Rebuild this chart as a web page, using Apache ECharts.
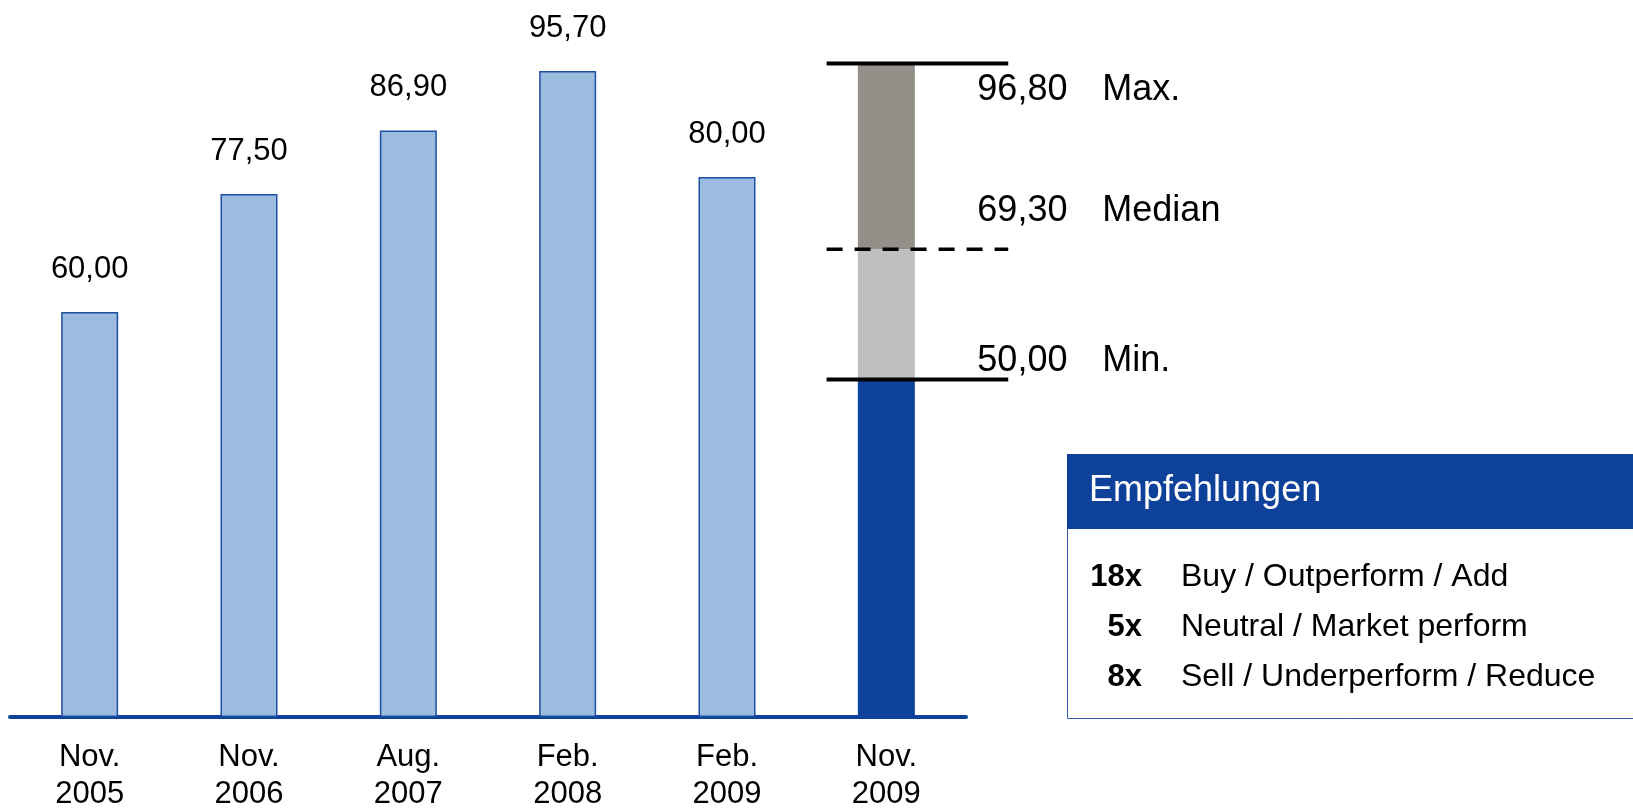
<!DOCTYPE html>
<html>
<head>
<meta charset="utf-8">
<script src="https://cdn.jsdelivr.net/npm/echarts@6/dist/echarts.min.js"></script>
<style>
  html, body { margin: 0; padding: 0; background: #fff; }
  #chart { width: 1633px; height: 809px; }
</style>
</head>
<body>
<div id="chart"></div>
<script>
// Kursziele (target prices) by date of study
const categories = ['Nov.\n2005', 'Nov.\n2006', 'Aug.\n2007', 'Feb.\n2008', 'Feb.\n2009', 'Nov.\n2009'];
const targetPrices = [60.00, 77.50, 86.90, 95.70, 80.00];

// Current analyst range for the last date: max, median, min
const rangeValues = [96.80, 69.30, 50.00];
const rangeNames = ['Max.', 'Median', 'Min.'];

// Recommendation summary
const boxTitle = 'Empfehlungen';
const recCounts = [18, 5, 8];
const recLabels = ['Buy / Outperform / Add', 'Neutral / Market perform', 'Sell / Underperform / Reduce'];

const BLUE = '#0E4199';
const LIGHT_BLUE = '#9BBBDF';
const DARK_GREY = '#958F89';
const LIGHT_GREY = '#BFBFBF';
const FONT = '"Liberation Sans", Arial, sans-serif';

const fmt = v => v.toFixed(2).replace('.', ',');
const last = categories.length - 1;
const [rMax, rMed, rMin] = rangeValues;

// History bars occupy the first categories, the range bar the last one
const historyData = categories.map((c, i) => i < targetPrices.length ? targetPrices[i] : '-');
const onlyLast = v => categories.map((c, i) => i === last ? v : '-');

// vertical text offsets of the range labels relative to their lines
const labelDy = [26, -38, -18];

const chart = echarts.init(document.getElementById('chart'), null, { renderer: 'canvas' });

const graphic = [
  { type: 'rect', shape: { x: 1067.5, y: 454.5, width: 600, height: 264 },
    style: { fill: '#fff', stroke: '#2F5BAA', lineWidth: 1 } },
  { type: 'rect', shape: { x: 1067, y: 454, width: 600, height: 75 },
    style: { fill: BLUE } },
  { type: 'text', x: 1089, y: 491,
    style: { text: boxTitle, fill: '#fff', font: '36px ' + FONT, verticalAlign: 'middle' } }
];
recCounts.forEach((n, i) => {
  const y = 577 + i * 50;
  graphic.push({ type: 'text', x: 1142, y: y,
    style: { text: n + 'x', fill: '#000', font: 'bold 31px ' + FONT, align: 'right', verticalAlign: 'middle' } });
  graphic.push({ type: 'text', x: 1181, y: y,
    style: { text: recLabels[i], fill: '#000', font: '32px ' + FONT, align: 'left', verticalAlign: 'middle' } });
});

chart.setOption({
  animation: false,
  backgroundColor: '#fff',
  grid: { left: 10, right: 667, top: 42, bottom: 92, containLabel: false, outerBoundsMode: 'none' },
  xAxis: {
    type: 'category',
    data: categories,
    offset: 2,
    axisLine: { show: true, lineStyle: { color: BLUE, width: 4 } },
    axisTick: { show: false },
    axisLabel: { color: '#000', fontSize: 31, fontFamily: FONT, lineHeight: 37, margin: 20 }
  },
  yAxis: {
    type: 'value', min: 0, max: 100,
    show: false, splitLine: { show: false }
  },
  series: [
    {
      name: 'Kursziel', type: 'bar', stack: 'k', barWidth: 57,
      data: historyData,
      itemStyle: { color: LIGHT_BLUE, borderColor: '#1E4FA3', borderWidth: 1.5 },
      label: { show: true, position: 'top', distance: 27, color: '#000', fontSize: 31, fontFamily: FONT,
               formatter: p => fmt(p.value) }
    },
    {
      name: 'Min', type: 'bar', stack: 'k', barWidth: 57,
      data: onlyLast(rMin), itemStyle: { color: BLUE }
    },
    {
      name: 'Min-Median', type: 'bar', stack: 'k', barWidth: 57,
      data: onlyLast(rMed - rMin), itemStyle: { color: LIGHT_GREY }
    },
    {
      name: 'Median-Max', type: 'bar', stack: 'k', barWidth: 57,
      data: onlyLast(rMax - rMed), itemStyle: { color: DARK_GREY }
    },
    {
      name: 'Spanne', type: 'custom', coordinateSystem: 'cartesian2d', z: 5,
      data: rangeValues.map(v => [last, v]),
      renderItem: (params, api) => {
        const i = params.dataIndex;
        const v = api.value(1);
        const p = api.coord([api.value(0), v]);
        const band = api.size([1, 0])[0];
        return {
          type: 'group',
          children: [
            { type: 'line',
              shape: { x1: p[0] - band * 0.375, y1: p[1], x2: p[0] + band * 0.765, y2: p[1] },
              style: { stroke: '#000', lineWidth: i === 1 ? 3.5 : 4, lineDash: i === 1 ? [16, 12] : null } },
            { type: 'text', x: p[0] + 91, y: p[1] + labelDy[i],
              style: { text: fmt(v), fill: '#000', font: '36px ' + FONT, verticalAlign: 'middle' } },
            { type: 'text', x: p[0] + 216, y: p[1] + labelDy[i],
              style: { text: rangeNames[i], fill: '#000', font: '36px ' + FONT, verticalAlign: 'middle' } }
          ]
        };
      }
    }
  ],
  graphic: graphic
});
</script>
</body>
</html>
